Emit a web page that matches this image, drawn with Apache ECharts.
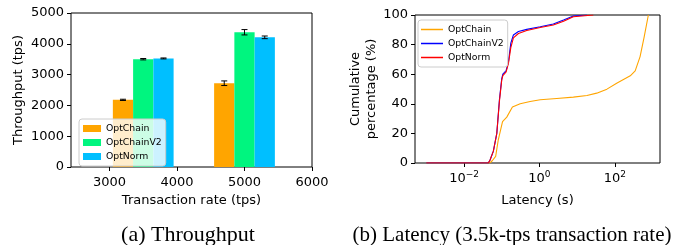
<!DOCTYPE html>
<html>
  <head>
    <meta charset="UTF-8" />
    <title>Throughput and latency</title>
    <style>
      html, body { margin: 0; padding: 0; background: #fff; }
      #chart { width: 689px; height: 245px; }
    </style>
    <script src="https://cdn.jsdelivr.net/npm/echarts@6/dist/echarts.min.js"></script>
  </head>
  <body>
    <div id="chart"></div>
    <script>
      // (a) throughput bars
      var rates = [3500, 5000];
      var rateTicks = [3000, 4000, 5000, 6000];
      var tpChain = [2180, 2720];
      var tpChainErr = [20, 75];
      var tpChainV2 = [3500, 4375];
      var tpChainV2Err = [22, 87];
      var tpNorm = [3525, 4210];
      var tpNormErr = [15, 43];

      // (b) latency CDF, latency in seconds and cumulative %
      var latTicks = [0.01, 1, 100];
      var latChain = [0.001, 0.048, 0.056, 0.069, 0.081, 0.105, 0.136, 0.192, 0.309, 0.566, 1.05, 2.88, 7.94, 18.2, 33.1, 61.7, 112, 257, 347, 468, 603, 776];
      var pctChain = [0, 0, 1.5, 4.5, 15.7, 28, 31, 37.8, 40, 41.6, 42.7, 43.6, 44.5, 45.6, 47.2, 49.9, 53.9, 58.9, 62.2, 71.9, 85.4, 100];
      var latChainV2 = [0.001, 0.044, 0.049, 0.060, 0.074, 0.087, 0.100, 0.107, 0.131, 0.151, 0.174, 0.204, 0.277, 0.461, 1.05, 2.34, 4.37, 7.94, 18.2];
      var pctChainV2 = [0, 0, 2, 8, 20, 43, 57, 60, 62.5, 68.5, 81, 86.5, 88.8, 90.3, 92.1, 93.9, 96.6, 99.3, 100];
      var latNorm = [0.001, 0.044, 0.049, 0.060, 0.074, 0.087, 0.100, 0.107, 0.131, 0.151, 0.174, 0.204, 0.277, 0.461, 1.05, 2.34, 4.37, 7.94, 26.9];
      var pctNorm = [0, 0, 2, 8, 20, 42, 56, 59, 61.5, 67.5, 78, 84.5, 87.5, 89.5, 91.5, 93.3, 95.8, 98.8, 100];

      var FONT = 'DejaVu Sans';
      var BAR_W = 300;          // bar width in tps
      var OFFSETS = [-300, 0, 300];
      var ORANGE = '#FFA500', GREEN = '#00F57F', SKY = '#00BFFF';

      function barData(vals, errs, k) {
        return vals.map(function (v, i) { return [rates[i] + OFFSETS[k], v, errs[i]]; });
      }
      function pairs(xs, ys) {
        return xs.map(function (x, i) { return [x, ys[i]]; });
      }

      function renderBar(params, api) {
        var x = api.value(0), y = api.value(1);
        var p0 = api.coord([x - BAR_W / 2, y]);
        var p1 = api.coord([x + BAR_W / 2, 0]);
        return {
          type: 'rect',
          shape: { x: p0[0], y: p0[1], width: p1[0] - p0[0], height: p1[1] - p0[1] },
          style: api.style()
        };
      }
      function renderErr(params, api) {
        var x = api.value(0), y = api.value(1), e = api.value(2);
        var hi = api.coord([x, y + e]);
        var lo = api.coord([x, y - e]);
        var st = { stroke: '#000', lineWidth: 1 };
        return {
          type: 'group',
          children: [
            { type: 'line', shape: { x1: hi[0], y1: hi[1], x2: lo[0], y2: lo[1] }, style: st },
            { type: 'line', shape: { x1: hi[0] - 3, y1: hi[1], x2: hi[0] + 3, y2: hi[1] }, style: st },
            { type: 'line', shape: { x1: lo[0] - 3, y1: lo[1], x2: lo[0] + 3, y2: lo[1] }, style: st }
          ]
        };
      }

      function supLabel(v) {
        var e = Math.round(Math.log10(v));
        return '{b|10}{s|' + (e < 0 ? '\u2212' + (-e) : e) + '}';
      }
      function plain(v) { return String(v); }

      var barNames = ['OptChain', 'OptChainV2', 'OptNorm'];
      var barColors = [ORANGE, GREEN, SKY];
      var lineColors = [ORANGE, '#0000FF', '#FF0000'];

      var axisText = { color: '#000', fontFamily: FONT, fontSize: 13 };

      var option = {
        animation: false,
        textStyle: { fontFamily: FONT },
        grid: [
          { left: 71, top: 13, width: 241, height: 154, show: true, borderColor: '#000', borderWidth: 1, backgroundColor: 'transparent', containLabel: false, outerBoundsMode: 'none' },
          { left: 415, top: 15, width: 245, height: 148, show: true, borderColor: '#000', borderWidth: 1, backgroundColor: 'transparent', containLabel: false, outerBoundsMode: 'none' }
        ],
        xAxis: [
          {
            gridIndex: 0, type: 'value', min: 2430, max: 6000, splitNumber: 4,
            name: 'Transaction rate (tps)', nameLocation: 'middle', nameGap: 27,
            nameTextStyle: axisText,
            axisLine: { show: false },
            axisTick: { show: true, length: 4, customValues: rateTicks, lineStyle: { color: '#000' } },
            axisLabel: Object.assign({ margin: 9, customValues: rateTicks, formatter: plain }, axisText),
            splitLine: { show: false }
          },
          {
            gridIndex: 1, type: 'log', logBase: 10, min: 0.0005, max: 1580,
            name: 'Latency (s)', nameLocation: 'middle', nameGap: 31,
            nameTextStyle: axisText,
            axisLine: { show: false },
            axisTick: { show: true, length: 4, customValues: latTicks, lineStyle: { color: '#000' } },
            axisLabel: {
              margin: 5, customValues: latTicks, formatter: supLabel,
              rich: {
                b: { fontSize: 13, fontFamily: FONT, color: '#000', verticalAlign: 'bottom', lineHeight: 17 },
                s: { fontSize: 9, fontFamily: FONT, color: '#000', verticalAlign: 'bottom', lineHeight: 17, padding: [0, 0, 6, 0] }
              }
            },
            splitLine: { show: false }
          }
        ],
        yAxis: [
          {
            gridIndex: 0, type: 'value', min: 0, max: 5000, interval: 1000,
            name: 'Throughput (tps)', nameLocation: 'middle', nameGap: 46,
            nameTextStyle: axisText,
            axisLine: { show: false },
            axisTick: { show: true, length: 4, lineStyle: { color: '#000' } },
            axisLabel: Object.assign({ margin: 7, formatter: plain }, axisText),
            splitLine: { show: false }
          },
          {
            gridIndex: 1, type: 'value', min: 0, max: 100, interval: 20,
            name: 'Cumulative\npercentage (%)', nameLocation: 'middle', nameGap: 32,
            nameTextStyle: Object.assign({ lineHeight: 16 }, axisText),
            axisLine: { show: false },
            axisTick: { show: true, length: 4, lineStyle: { color: '#000' } },
            axisLabel: Object.assign({ margin: 7 }, axisText),
            splitLine: { show: false }
          }
        ],
        legend: [
          {
            orient: 'vertical', left: 79, top: 119, padding: [4, 4, 4, 4],
            itemWidth: 18, itemHeight: 7, itemGap: 3,
            backgroundColor: 'rgba(255,255,255,0.8)', borderColor: '#ccc', borderWidth: 1, borderRadius: 3,
            textStyle: { fontFamily: FONT, fontSize: 9.3, color: '#000', lineHeight: 11 },
            data: barNames.map(function (n, i) { return { name: n, icon: 'rect', itemStyle: { color: barColors[i] } }; })
          },
          {
            orient: 'vertical', left: 418, top: 20, padding: [4, 4, 4, 3],
            itemWidth: 22, itemHeight: 1.5, itemGap: 3,
            backgroundColor: 'rgba(255,255,255,0.8)', borderColor: '#ccc', borderWidth: 1, borderRadius: 3,
            textStyle: { fontFamily: FONT, fontSize: 9.3, color: '#000', lineHeight: 11 },
            data: barNames.map(function (n, i) { return { name: n, icon: 'rect', itemStyle: { color: lineColors[i] } }; })
          }
        ],
        graphic: [
          { type: 'text', x: 188, y: 235, style: { text: '(a) Throughput', font: '22px "Liberation Serif"', fill: '#000', textAlign: 'center', textVerticalAlign: 'middle' } },
          { type: 'text', x: 512, y: 235, style: { text: '(b) Latency (3.5k-tps transaction rate)', font: '21px "Liberation Serif"', fill: '#000', textAlign: 'center', textVerticalAlign: 'middle' } }
        ],
        series: [
          { name: 'OptChain', type: 'custom', xAxisIndex: 0, yAxisIndex: 0, renderItem: renderBar, itemStyle: { color: ORANGE }, data: barData(tpChain, tpChainErr, 0), encode: { x: 0, y: 1 } },
          { name: 'OptChainV2', type: 'custom', xAxisIndex: 0, yAxisIndex: 0, renderItem: renderBar, itemStyle: { color: GREEN }, data: barData(tpChainV2, tpChainV2Err, 1), encode: { x: 0, y: 1 } },
          { name: 'OptNorm', type: 'custom', xAxisIndex: 0, yAxisIndex: 0, renderItem: renderBar, itemStyle: { color: SKY }, data: barData(tpNorm, tpNormErr, 2), encode: { x: 0, y: 1 } },
          { name: 'err', type: 'custom', xAxisIndex: 0, yAxisIndex: 0, renderItem: renderErr, z: 5, encode: { x: 0, y: 1 },
            data: barData(tpChain, tpChainErr, 0).concat(barData(tpChainV2, tpChainV2Err, 1), barData(tpNorm, tpNormErr, 2)) },
          { name: 'OptChain', type: 'line', xAxisIndex: 1, yAxisIndex: 1, showSymbol: false, lineStyle: { color: lineColors[0], width: 1.1 }, itemStyle: { color: lineColors[0] }, data: pairs(latChain, pctChain) },
          { name: 'OptChainV2', type: 'line', xAxisIndex: 1, yAxisIndex: 1, showSymbol: false, lineStyle: { color: lineColors[1], width: 1.1 }, itemStyle: { color: lineColors[1] }, data: pairs(latChainV2, pctChainV2) },
          { name: 'OptNorm', type: 'line', xAxisIndex: 1, yAxisIndex: 1, showSymbol: false, lineStyle: { color: lineColors[2], width: 1.1 }, itemStyle: { color: lineColors[2] }, data: pairs(latNorm, pctNorm) }
        ]
      };

      var chart = echarts.init(document.getElementById('chart'), null, { renderer: 'canvas' });
      chart.setOption(option);
    </script>
  </body>
</html>
